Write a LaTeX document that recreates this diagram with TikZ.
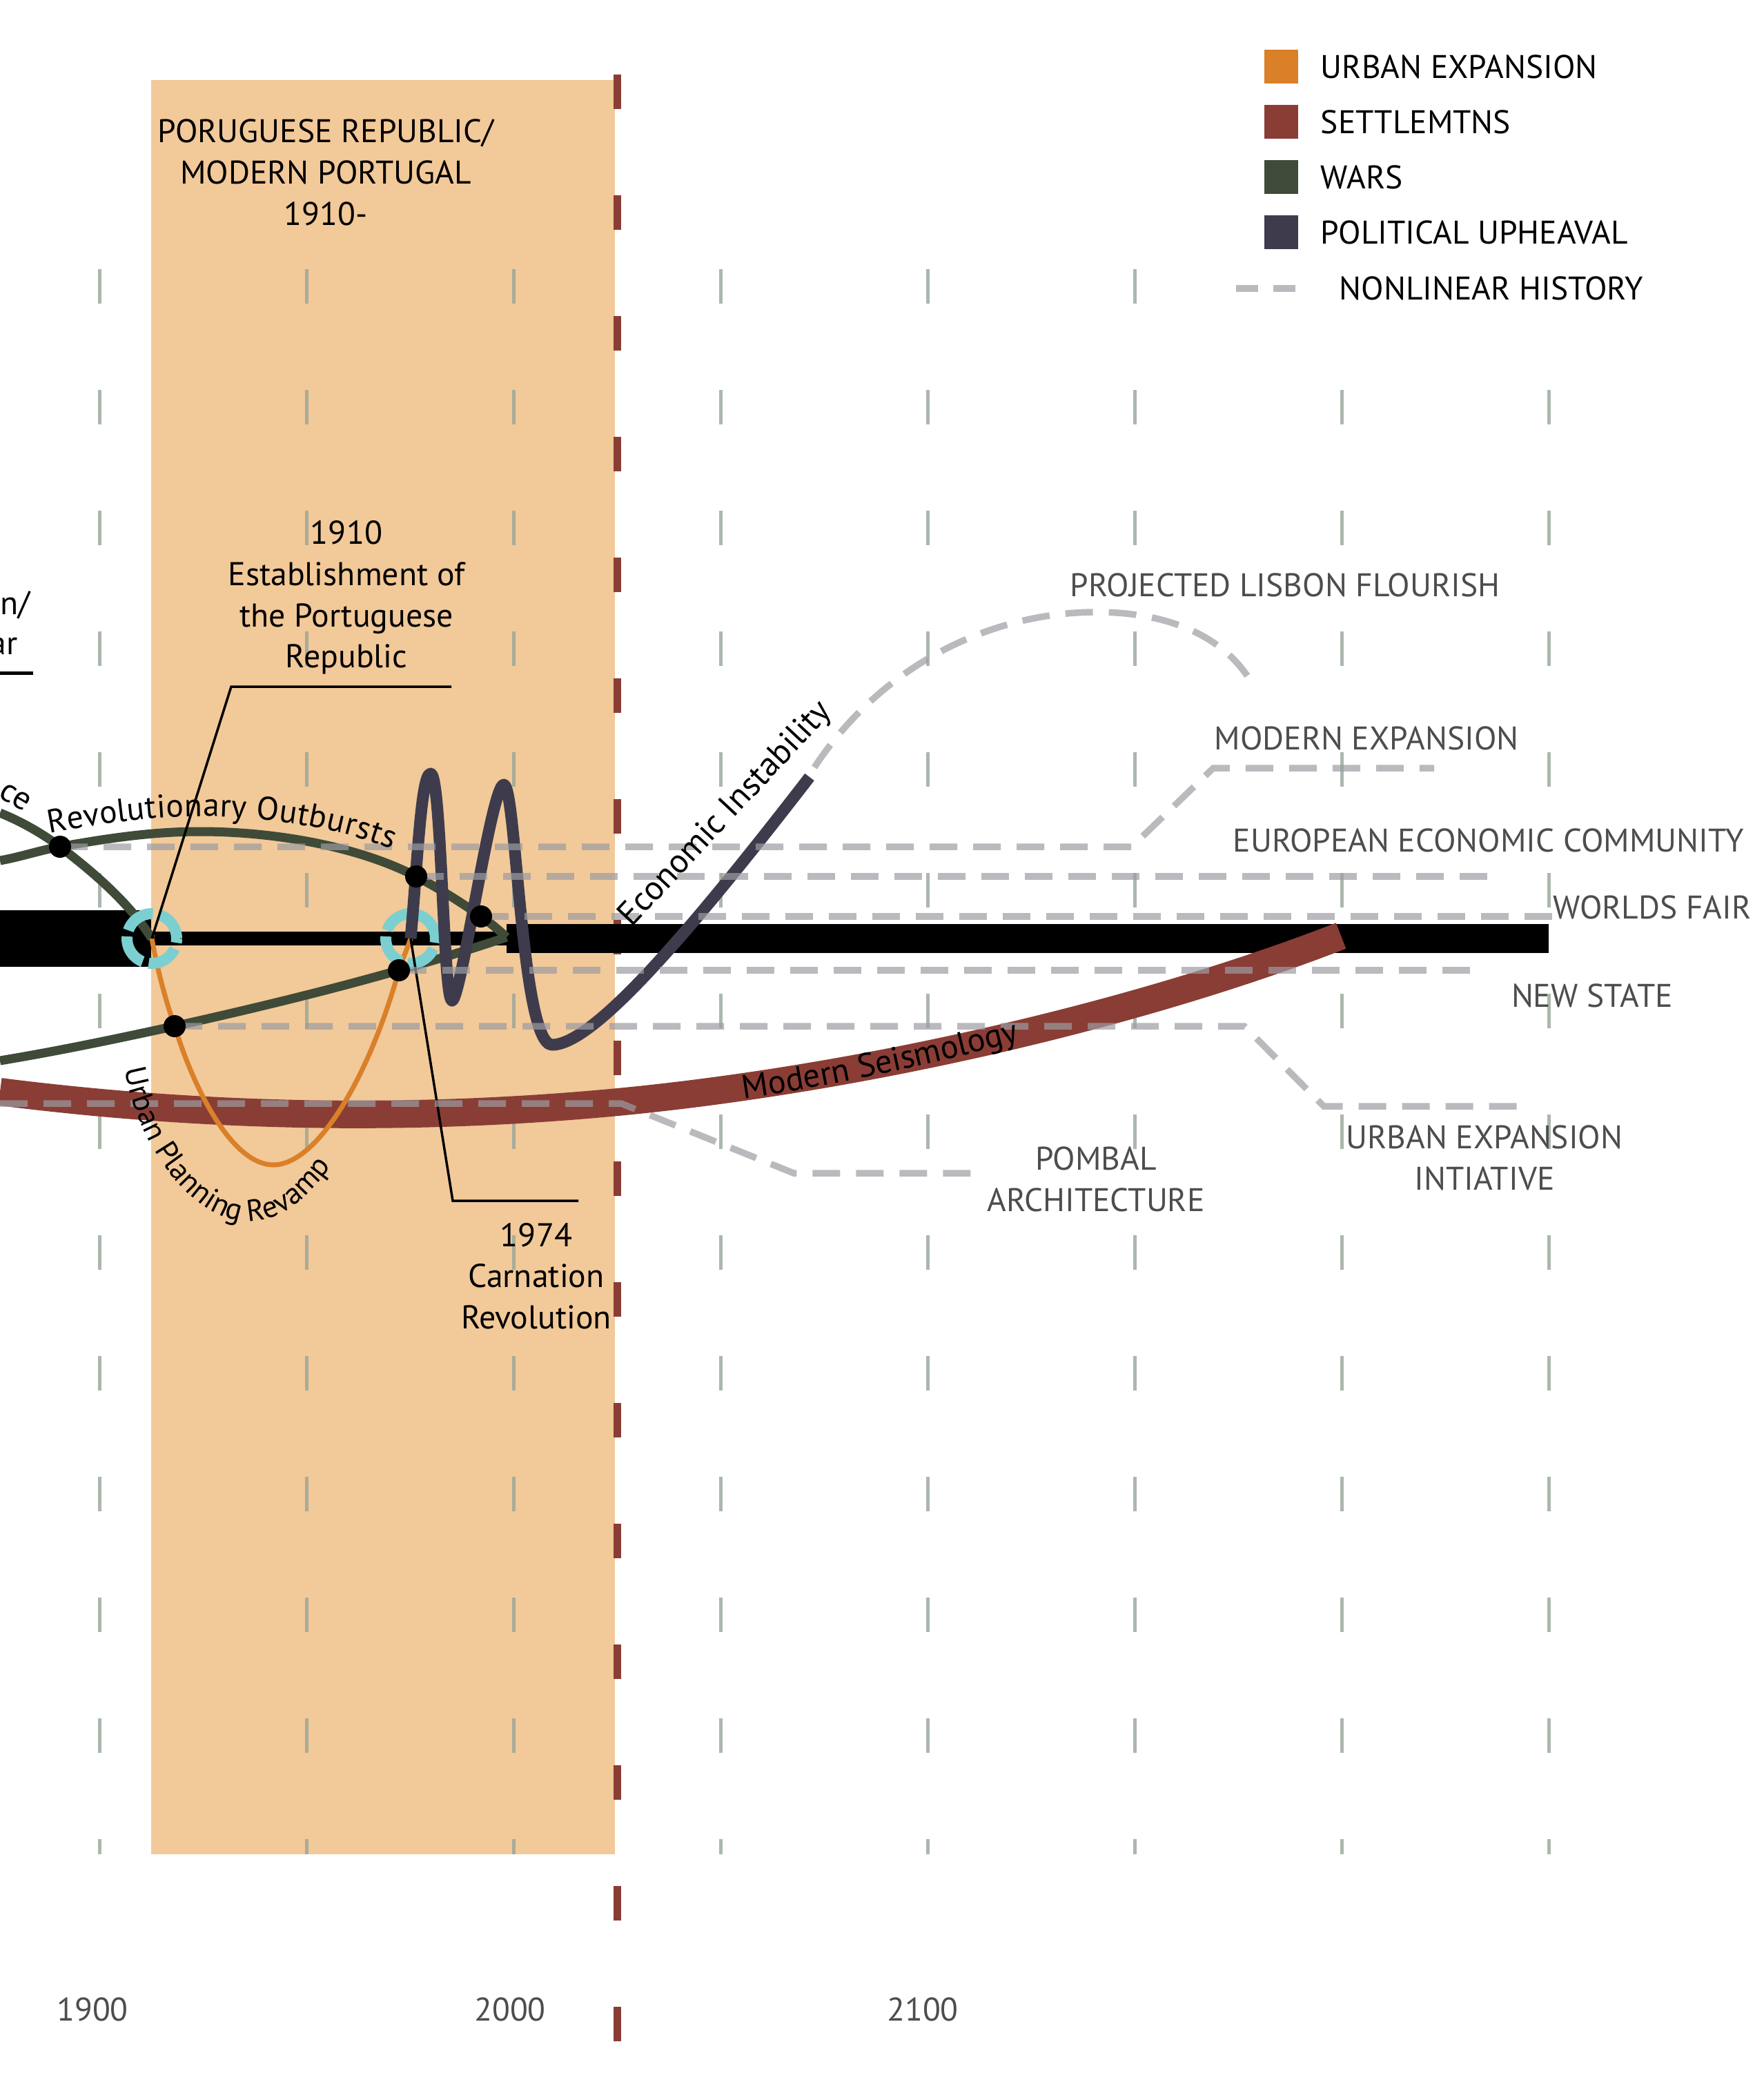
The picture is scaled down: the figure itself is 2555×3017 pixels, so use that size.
\documentclass[tikz,border=0pt]{standalone}
\usepackage{fontspec}
\setmainfont{PT Sans}
\usetikzlibrary{positioning, decorations.text}

\definecolor{urbanc}{HTML}{D98029}
\definecolor{settlec}{HTML}{8A3D35}
\definecolor{warsc}{HTML}{3F4B38}
\definecolor{upc}{HTML}{3E3C4C}
\definecolor{erac}{HTML}{F2C999}
\definecolor{ringcol}{HTML}{7CCFD0}
\definecolor{tickc}{HTML}{97A598}
\definecolor{histc}{HTML}{9C9CA2}
\definecolor{labelc}{HTML}{4D4D4D}

\begin{document}
\begin{tikzpicture}[
  x=0.1mm, y=-0.1mm,
  gridtick/.style={draw=tickc, line width=0.5mm, opacity=0.8},
  hist/.style={draw=histc, line width=0.95mm, dash pattern=on 4mm off 2.3mm, opacity=0.7},
  evdot/.style={circle, fill=black, inner sep=0pt, minimum size=3.2mm},
  leader/.style={draw=black, line width=0.35mm},
  ringmark/.style={draw=ringcol, line width=1.6mm, dash pattern=on 4.6mm off 0.9mm},
  keybox/.style={minimum size=4.9mm, inner sep=0pt},
  keytxt/.style={anchor=west, inner sep=0pt, font=\fontsize{13.5}{17}\selectfont},
  capslbl/.style={inner sep=0pt, text=labelc, align=center, font=\fontsize{13.5}{17}\selectfont},
  evlbl/.style={inner sep=0pt, align=center, font=\fontsize{13.6}{17}\selectfont}
]
\useasboundingbox (0,0) rectangle (2555,3017);

\fill[erac] (219,116) rectangle (891,2687);

\foreach \c in {0,...,5}
  \draw[gridtick] ({144+300*\c},390) -- ++(0,50);
\foreach \r in {1,...,12}
  \foreach \c in {0,...,7}
    \draw[gridtick] ({144+300*\c},{390+175*\r}) -- ++(0,50);
\foreach \c in {0,...,7}
  \draw[gridtick] ({144+300*\c},2665) -- ++(0,22);

\draw[settlec, line width=1.1mm, dash pattern=on 5mm off 12.5mm] (894,108) -- (894,2960);

\coordinate (c1910) at (220,1360);
\coordinate (c1974) at (595,1360);
\coordinate (ro) at (87,1227);
\coordinate (eec) at (603,1270);
\coordinate (wf) at (697,1328);
\coordinate (ns) at (578,1406);
\coordinate (uei) at (253,1487);
\coordinate (tip) at (734,1358);
\coordinate (ei) at (1173,1126);

\fill (0,1319) rectangle (219,1401);
\fill (219,1350) rectangle (734,1370);
\fill (734,1339) rectangle (2244,1381);

\draw[settlec, line width=4mm] (0,1582) .. controls (300,1620) and (600,1625) .. (895,1597)
  .. controls (1250,1563) and (1650,1470) .. (1943,1356);

\draw[warsc, line width=1.3mm] (0,1247) .. controls (29,1242) and (58,1232) .. (ro)
  .. controls (155,1215) and (220,1205) .. (290,1205)
  .. controls (400,1205) and (520,1227) .. (eec)
  .. controls (635,1287) and (666,1306) .. (wf)
  .. controls (710,1337) and (722,1347) .. (tip);
\draw[warsc, line width=1.3mm] (0,1178) .. controls (30,1190) and (60,1207) .. (ro)
  .. controls (130,1260) and (185,1305) .. (c1910);
\draw[warsc, line width=1.3mm] (0,1537) .. controls (90,1522) and (170,1505) .. (uei)
  .. controls (370,1461) and (480,1434) .. (ns)
  .. controls (635,1390) and (690,1373) .. (tip);

\draw[urbanc, line width=0.7mm] (c1910) .. controls (228,1405) and (240,1450) .. (uei)
  .. controls (285,1590) and (340,1688) .. (396,1688)
  .. controls (460,1688) and (535,1560) .. (ns)
  .. controls (583,1390) and (590,1375) .. (c1974);

\draw[ringmark] (c1910) circle[radius=3.6mm];
\draw[ringmark] (c1974) circle[radius=3.6mm];

\draw[upc, line width=1.7mm, line join=round] (c1974) .. controls (605,1250) and (610,1121) .. (624,1121)
  .. controls (640,1121) and (642,1450) .. (655,1450)
  .. controls (668,1450) and (712,1137) .. (730,1137)
  .. controls (748,1137) and (755,1514) .. (800,1514)
  .. controls (860,1514) and (1000,1350) .. (ei);

\draw[leader] (c1910) -- (335,995) -- (654,995);
\draw[leader] (c1974) -- (656,1740) -- (838,1740);
\draw[black, line width=0.5mm] (0,975) -- (48,975);

\draw[hist] (ro) -- (1640,1227) -- (1758,1113) -- (2078,1113);
\draw[hist] (eec) -- (2165,1270);
\draw[hist] (wf) -- (2252,1328);
\draw[hist] (ns) -- (2140,1406);
\draw[hist] (uei) -- (1803,1487) -- (1918,1603) -- (2209,1603);
\draw[hist] (0,1599) -- (900,1599) -- (1150,1700) -- (1415,1700);
\draw[hist] (1180,1112) .. controls (1280,960) and (1440,887) .. (1589,887)
  .. controls (1690,887) and (1770,920) .. (1811,985);

\foreach \p in {ro,eec,wf,ns,uei}
  \node[evdot] (\p dot) at (\p) {};

\path[decorate, decoration={text along path, raise=2.2mm,
  text={|\fontsize{13.5}{17}\selectfont|Revolutionary Outbursts}}]
  (75,1229) .. controls (150,1215) and (220,1205) .. (290,1205)
  .. controls (400,1205) and (520,1227) .. (eec) .. controls (635,1287) and (666,1306) .. (wf);
\path[decorate, decoration={text along path, text align=center,
  text={|\fontsize{12.5}{15}\selectfont|Urban Planning Revamp}}]
  (178,1532) .. controls (195,1660) and (280,1770) .. (360,1770)
  .. controls (410,1770) and (455,1730) .. (490,1675);
\path[decorate, decoration={text along path, text align=center,
  text={|\fontsize{13.8}{17}\selectfont|Modern Seismology}}]
  (1065,1594) .. controls (1200,1575) and (1340,1545) .. (1490,1505);
\node[evlbl, rotate=47, font=\fontsize{14}{17}\selectfont] (ecoinst) at (1052,1180) {Economic Instability};
\node[evlbl, rotate=-30] (cefrag) at (22,1155) {ce};
\node[evlbl, anchor=base east] (nfrag) at (44,890) {n/};
\node[evlbl, anchor=base east] (arfrag) at (26,948) {ar};

\node[evlbl] (rep1910) at (502,866) {1910\\Establishment of\\the Portuguese\\Republic};
\node[evlbl] (carn1974) at (777,1849) {1974\\Carnation\\Revolution};
\node[evlbl, font=\fontsize{13.5}{17}\selectfont] (eraname) at (472,250) {PORUGUESE REPUBLIC/\\MODERN PORTUGAL\\1910-};

\node[capslbl] (plf) at (1862,848) {PROJECTED LISBON FLOURISH};
\node[capslbl] (modexp) at (1980,1070) {MODERN EXPANSION};
\node[capslbl] (eeclbl) at (2157,1218) {EUROPEAN ECONOMIC COMMUNITY};
\node[capslbl] (wflbl) at (2394,1315) {WORLDS FAIR};
\node[capslbl] (nslbl) at (2307,1443) {NEW STATE};
\node[capslbl] (ueilbl) at (2151,1678) {URBAN EXPANSION\\INTIATIVE};
\node[capslbl] (pombal) at (1588,1709) {POMBAL\\ARCHITECTURE};

\node[capslbl] (y1900) at (134,2912) {1900};
\node[capslbl] (y2000) at (739,2912) {2000};
\node[capslbl] (y2100) at (1337,2912) {2100};

\node[keybox, fill=urbanc] (kurban) at (1856,97) {};
\node[keybox, fill=settlec] (ksettle) at (1856,177) {};
\node[keybox, fill=warsc] (kwars) at (1856,257) {};
\node[keybox, fill=upc] (kup) at (1856,337) {};
\node[keytxt, right=3.2mm of kurban] {URBAN EXPANSION};
\node[keytxt, right=3.2mm of ksettle] {SETTLEMTNS};
\node[keytxt, right=3.2mm of kwars] {WARS};
\node[keytxt, right=3.2mm of kup] {POLITICAL UPHEAVAL};
\coordinate (khist) at (1791,418);
\draw[hist, dash pattern=on 3.2mm off 2.2mm] (khist) -- ++(87,0);
\node[keytxt] (khisttxt) at (1940,418) {NONLINEAR HISTORY};
\end{tikzpicture}
\end{document}
